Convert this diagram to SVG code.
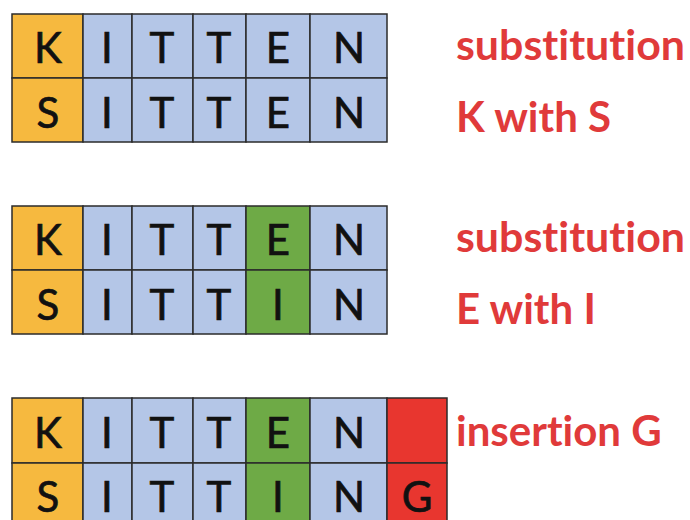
<svg xmlns="http://www.w3.org/2000/svg" width="690" height="520" viewBox="0 0 690 520">
<style>
.o{fill:#F6B93F}.b{fill:#B4C6E7}.g{fill:#6EAA46}.r{fill:#E8362F}
.c{stroke:#2b2b2b;stroke-width:1.5}
.t{font-family:Lato,"Open Sans",sans-serif;font-size:42px;fill:#111;stroke:#111;stroke-width:0.7;text-anchor:middle}
.l{font-family:Lato,"Open Sans",sans-serif;font-size:42px;font-weight:bold;fill:#E03A3A;font-variant-ligatures:none}
</style>
<rect width="690" height="520" fill="#fff"/>
<g id="table1">
<g class="c">
<rect class="o" x="12" y="14" width="71" height="64"/><rect class="b" x="83" y="14" width="49" height="64"/><rect class="b" x="132" y="14" width="61" height="64"/><rect class="b" x="193" y="14" width="53" height="64"/><rect class="b" x="246" y="14" width="64" height="64"/><rect class="b" x="310" y="14" width="77" height="64"/>
<rect class="o" x="12" y="78" width="71" height="64"/><rect class="b" x="83" y="78" width="49" height="64"/><rect class="b" x="132" y="78" width="61" height="64"/><rect class="b" x="193" y="78" width="53" height="64"/><rect class="b" x="246" y="78" width="64" height="64"/><rect class="b" x="310" y="78" width="77" height="64"/>
</g>
<g class="t">
<text x="48" y="63">K</text><text x="107" y="63">I</text><text x="162" y="63">T</text><text x="219" y="63">T</text><text x="278" y="63">E</text><text x="349" y="63">N</text>
<text x="48" y="128">S</text><text x="107" y="128">I</text><text x="162" y="128">T</text><text x="219" y="128">T</text><text x="278" y="128">E</text><text x="349" y="128">N</text>
</g>
<text class="l" x="456" y="60" textLength="229" lengthAdjust="spacingAndGlyphs">substitution</text>
<text class="l" x="456" y="132">K with S</text>
</g>
<g id="table2">
<g class="c">
<rect class="o" x="12" y="206" width="71" height="64"/><rect class="b" x="83" y="206" width="49" height="64"/><rect class="b" x="132" y="206" width="61" height="64"/><rect class="b" x="193" y="206" width="53" height="64"/><rect class="g" x="246" y="206" width="64" height="64"/><rect class="b" x="310" y="206" width="77" height="64"/>
<rect class="o" x="12" y="270" width="71" height="64"/><rect class="b" x="83" y="270" width="49" height="64"/><rect class="b" x="132" y="270" width="61" height="64"/><rect class="b" x="193" y="270" width="53" height="64"/><rect class="g" x="246" y="270" width="64" height="64"/><rect class="b" x="310" y="270" width="77" height="64"/>
</g>
<g class="t">
<text x="48" y="255">K</text><text x="107" y="255">I</text><text x="162" y="255">T</text><text x="219" y="255">T</text><text x="278" y="255">E</text><text x="349" y="255">N</text>
<text x="48" y="320">S</text><text x="107" y="320">I</text><text x="162" y="320">T</text><text x="219" y="320">T</text><text x="278" y="320">I</text><text x="349" y="320">N</text>
</g>
<text class="l" x="456" y="252" textLength="229" lengthAdjust="spacingAndGlyphs">substitution</text>
<text class="l" x="456" y="324">E with I</text>
</g>
<g id="table3">
<g class="c">
<rect class="o" x="12" y="398" width="71" height="65"/><rect class="b" x="83" y="398" width="49" height="65"/><rect class="b" x="132" y="398" width="61" height="65"/><rect class="b" x="193" y="398" width="53" height="65"/><rect class="g" x="246" y="398" width="64" height="65"/><rect class="b" x="310" y="398" width="77" height="65"/><rect class="r" x="387" y="398" width="60" height="65"/>
<rect class="o" x="12" y="463" width="71" height="65"/><rect class="b" x="83" y="463" width="49" height="65"/><rect class="b" x="132" y="463" width="61" height="65"/><rect class="b" x="193" y="463" width="53" height="65"/><rect class="g" x="246" y="463" width="64" height="65"/><rect class="b" x="310" y="463" width="77" height="65"/><rect class="r" x="387" y="463" width="60" height="65"/>
</g>
<g class="t">
<text x="48" y="448">K</text><text x="107" y="448">I</text><text x="162" y="448">T</text><text x="219" y="448">T</text><text x="278" y="448">E</text><text x="349" y="448">N</text>
<text x="48" y="512">S</text><text x="107" y="512">I</text><text x="162" y="512">T</text><text x="219" y="512">T</text><text x="278" y="512">I</text><text x="349" y="512">N</text><text x="417" y="512">G</text>
</g>
<text class="l" x="456" y="446">insertion G</text>
</g>
</svg>
